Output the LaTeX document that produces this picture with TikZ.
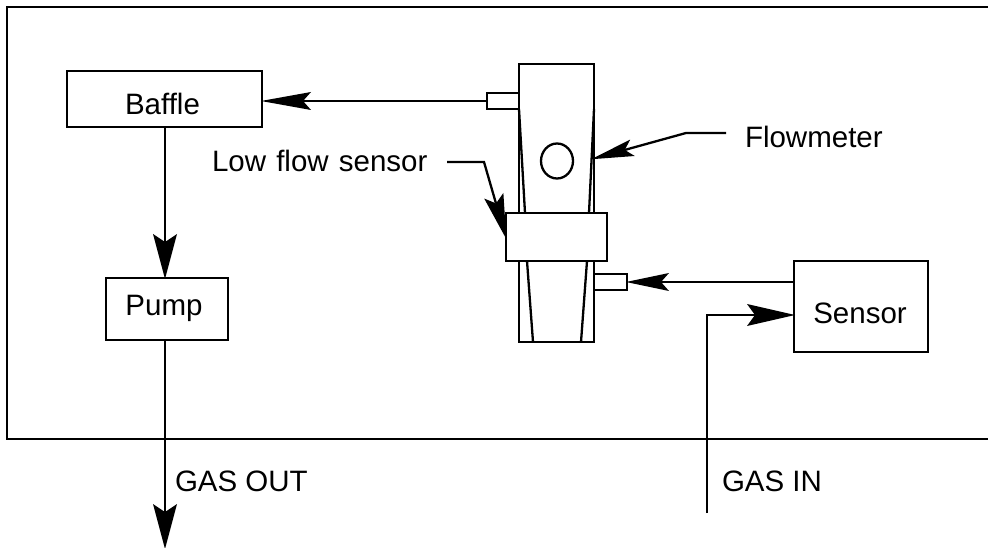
\documentclass[tikz,border=0pt]{standalone}
\usepackage{fontspec}
\setmainfont{Liberation Sans}
\usetikzlibrary{arrows.meta,shapes.geometric}
\newcommand{\lblsize}{\fontsize{29.5}{34}\selectfont}
\tikzset{
  boxnode/.style={draw=black,line width=2.3pt,fill=white,inner sep=0pt,outer sep=0pt,font=\lblsize,text depth=0pt},
  lbl/.style={inner sep=0pt,outer sep=0pt,anchor=base west,font=\lblsize},
  conn/.style 2 args={line width=2.3pt,line join=miter,shorten >=-1pt,-{Stealth[length=#1pt,width=#2pt,inset=8pt,line width=0pt]}},
  plain/.style={line width=2.3pt,line join=miter}
}
\begin{document}
\begin{tikzpicture}[x=1pt,y=-1pt]
\useasboundingbox (0,0) rectangle (988,548);
% frame
\coordinate (ftr) at (988,7);
\coordinate (ftl) at (7,7);
\coordinate (fbl) at (7,439);
\coordinate (fbr) at (988,439);
\draw[plain] (ftr) -- (ftl) -- (fbl) -- (fbr);
% flowmeter
\node[boxnode,minimum width=75pt,minimum height=278pt] (tube) at (556.5,203) {};
\node[boxnode,minimum width=32pt,minimum height=16pt] (nubL) at (503,101) {};
\node[boxnode,minimum width=33pt,minimum height=16pt] (nubR) at (610.5,282) {};
\draw[plain] (519,109) -- (525,213);
\draw[plain] (594,109) -- (589,213);
\draw[plain] (527,261) -- (533,342);
\draw[plain] (587,261) -- (581,342);
\node[boxnode,minimum width=101pt,minimum height=48pt] (band) at (556.5,237) {};
\node[draw=black,line width=2.3pt,ellipse,minimum width=32pt,minimum height=35pt,inner sep=0pt] (float) at (557,161) {};
% boxes
\node[boxnode,minimum width=195pt,minimum height=56pt,text height=32pt] (baffle) at (164.5,99) {\hspace*{-4pt}Baffle};
\node[boxnode,minimum width=122pt,minimum height=62pt,text height=12pt] (pump) at (167,309) {\hspace*{-6pt}Pump};
\node[boxnode,minimum width=134pt,minimum height=91pt,text height=33pt] (sensor) at (861,306.5) {\hspace*{-2pt}Sensor};
% labels
\node[lbl] (lflow) at (212,172) {Low\hspace{2pt} flow\hspace{2pt} sensor};
\node[lbl] (fm) at (745,148) {Flowmeter};
\node[lbl] (gout) at (175,491) {GAS OUT};
\node[lbl] (gin) at (722,491) {GAS IN};
% connectors
\coordinate (outEnd) at (165,548);
\draw[conn={50}{18}] (nubL.west) -- (nubL.west -| baffle.east);
\draw[conn={45}{24}] (outEnd |- baffle.south) -- (outEnd |- pump.north);
\draw[conn={45}{24}] (outEnd |- pump.south) -- (outEnd);
\coordinate (inStart) at (707,513);
\coordinate (inEnd) at (794,315);
\draw[conn={48}{22}] (inStart) -- (inStart |- inEnd) -- (inEnd);
\draw[conn={43}{18}] (sensor.west |- nubR.east) -- (nubR.east);
\coordinate (fmA) at (726,133);
\coordinate (fmB) at (686,133);
\coordinate (fmT) at (592,159);
\draw[conn={43}{17}] (fmA) -- (fmB) -- (fmT);
\coordinate (lfA) at (447,162);
\coordinate (lfB) at (484,162);
\coordinate (lfT) at (506,238);
\draw[conn={45}{20}] (lfA) -- (lfB) -- (lfT);
\end{tikzpicture}
\end{document}
